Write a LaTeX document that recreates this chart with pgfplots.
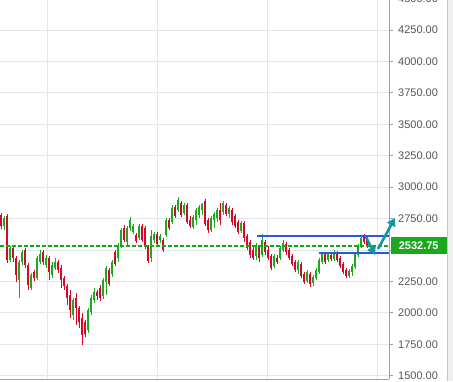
\documentclass[border=0pt]{standalone}
\usepackage{fontspec}
\setmainfont{Liberation Sans}
\usepackage{pgfplots}
\pgfplotsset{compat=1.18}
\usepackage{pgfplotstable}
\usetikzlibrary{arrows.meta}
\definecolor{gridc}{RGB}{224,231,239}
\definecolor{axisc}{RGB}{160,160,160}
\definecolor{labc}{RGB}{85,85,85}
\definecolor{upc}{RGB}{30,168,30}
\definecolor{dnc}{RGB}{214,8,42}
\definecolor{pricec}{RGB}{20,170,20}
\definecolor{boxc}{RGB}{28,168,28}
\definecolor{bluec}{RGB}{45,85,225}
\definecolor{tealc}{RGB}{18,150,160}
\definecolor{stripc}{RGB}{240,240,240}

\pgfplotstableread{
x o h l c
4 2691 2770 2659 2754
10 2420 2532 2404 2516
19 2261 2420 2118 2404
22 2404 2500 2381 2484
31 2198 2317 2182 2301
37 2277 2452 2261 2436
40 2404 2500 2389 2468
46 2381 2460 2357 2436
52 2301 2404 2277 2381
55 2357 2436 2341 2404
73 1983 2118 1943 2102
88 1864 2039 1840 2023
91 2007 2142 1983 2118
94 2102 2198 2078 2166
103 2134 2277 2110 2261
106 2245 2373 2142 2357
112 2309 2420 2285 2404
118 2436 2556 2404 2540
121 2540 2675 2516 2659
127 2564 2691 2540 2675
130 2675 2762 2651 2739
133 2643 2707 2627 2691
139 2595 2707 2579 2691
151 2436 2659 2404 2611
154 2579 2643 2556 2627
160 2579 2627 2556 2611
166 2619 2754 2603 2739
172 2723 2858 2707 2834
178 2818 2921 2802 2898
184 2794 2874 2778 2858
193 2683 2778 2667 2762
196 2739 2834 2699 2818
199 2778 2858 2754 2842
202 2818 2874 2778 2866
211 2659 2770 2643 2754
214 2739 2802 2675 2786
217 2754 2834 2723 2818
223 2802 2890 2778 2874
229 2786 2850 2754 2834
241 2651 2731 2635 2715
256 2452 2556 2420 2540
262 2460 2627 2444 2579
274 2373 2468 2357 2452
280 2436 2532 2420 2516
283 2500 2579 2484 2556
298 2341 2420 2309 2404
307 2253 2341 2237 2325
313 2237 2301 2214 2285
316 2277 2357 2261 2341
319 2325 2436 2309 2420
322 2404 2484 2389 2468
328 2420 2484 2404 2468
334 2428 2500 2412 2484
349 2293 2349 2277 2333
352 2325 2389 2293 2373
355 2365 2484 2349 2468
358 2460 2548 2444 2532
361 2532 2611 2516 2595
}\upcandles

\pgfplotstableread{
x o h l c
1 2778 2794 2667 2691
7 2770 2786 2397 2420
13 2516 2540 2404 2436
16 2436 2452 2245 2301
25 2500 2516 2357 2381
28 2381 2397 2182 2222
34 2325 2341 2253 2277
43 2484 2500 2381 2404
49 2436 2452 2261 2325
58 2404 2420 2317 2341
61 2357 2381 2198 2261
64 2277 2293 2182 2214
67 2214 2229 2062 2118
70 2142 2182 1959 2023
76 2118 2158 1903 2039
79 2039 2054 1879 1927
82 1959 1999 1744 1824
85 1927 1943 1808 1832
97 2166 2182 2102 2134
100 2198 2222 2094 2118
109 2341 2357 2214 2229
115 2484 2500 2373 2389
124 2675 2699 2564 2579
136 2619 2635 2556 2571
142 2691 2707 2564 2579
145 2675 2691 2508 2524
148 2524 2540 2397 2412
157 2627 2643 2532 2548
163 2579 2595 2484 2500
169 2739 2754 2659 2675
175 2842 2858 2754 2770
181 2874 2890 2762 2778
187 2858 2874 2707 2723
190 2739 2770 2675 2691
205 2890 2906 2691 2707
208 2739 2754 2635 2659
220 2818 2874 2699 2739
226 2858 2874 2770 2786
232 2818 2834 2699 2723
235 2770 2786 2675 2691
238 2723 2739 2627 2643
244 2715 2731 2564 2595
247 2611 2627 2500 2516
250 2564 2579 2436 2460
253 2500 2524 2420 2436
259 2524 2540 2404 2436
265 2564 2579 2460 2484
268 2500 2532 2420 2436
271 2452 2468 2341 2357
277 2436 2460 2389 2404
286 2548 2564 2460 2484
289 2500 2516 2420 2436
292 2452 2468 2373 2389
295 2404 2420 2325 2341
301 2389 2404 2277 2293
304 2309 2325 2229 2245
310 2309 2325 2206 2229
325 2468 2484 2389 2404
331 2460 2476 2412 2428
337 2476 2492 2404 2420
340 2436 2452 2357 2373
343 2389 2404 2309 2325
346 2341 2357 2277 2293
364 2611 2627 2548 2564
367 2595 2611 2516 2532.75
}\dncandles

\begin{document}
\begin{tikzpicture}[x=1pt,y=1pt]
\fill[stripc] (447,0) rectangle (453,381);
\draw[axisc!60, line width=0.6pt] (447,0) -- (447,381);
\begin{axis}[
  at={(0pt,2pt)}, anchor=south west,
  scale only axis, width=389pt, height=389pt,
  xmin=0, xmax=389, ymin=1473.8, ymax=4567.9,
  clip=false,
  axis y line*=right, axis x line*=bottom,
  axis line style={draw=axisc, line width=0.7pt},
  xtick={47.7,157,267,377}, xticklabels={},
  major x tick style={draw=none},
  ytick={1500,1750,2000,2250,2750,3000,3250,3500,3750,4000,4250,4500},
  extra y ticks={2500}, extra y tick labels={},
  xmajorgrids, ymajorgrids,
  grid style={draw=gridc, line width=0.8pt},
  tick align=outside, major tick length=4pt,
  major y tick style={draw=axisc, line width=0.7pt},
  /pgf/number format/.cd, fixed, fixed zerofill, precision=2, 1000 sep={}, assume math mode=true,
  /pgfplots/.cd,
  yticklabel style={font=\fontsize{11pt}{13pt}\selectfont, text=labc, anchor=west, inner sep=0pt, xshift=5pt},
]
% wicks
\addplot[draw=none, mark=none, forget plot, error bars/.cd, y dir=both, y explicit, error mark=none,
  error bar style={draw=upc, line width=0.9pt, solid}]
  table[x=x, y expr=(\thisrow{h}+\thisrow{l})/2, y error expr=(\thisrow{h}-\thisrow{l})/2] {\upcandles};
\addplot[draw=none, mark=none, forget plot, error bars/.cd, y dir=both, y explicit, error mark=none,
  error bar style={draw=dnc, line width=0.9pt, solid}]
  table[x=x, y expr=(\thisrow{h}+\thisrow{l})/2, y error expr=(\thisrow{h}-\thisrow{l})/2] {\dncandles};
% bodies
\addplot[draw=none, mark=none, forget plot, error bars/.cd, y dir=both, y explicit, error mark=none,
  error bar style={draw=upc, line width=2.2pt, solid}]
  table[x=x, y expr=(\thisrow{o}+\thisrow{c})/2, y error expr=abs(\thisrow{c}-\thisrow{o})/2] {\upcandles};
\addplot[draw=none, mark=none, forget plot, error bars/.cd, y dir=both, y explicit, error mark=none,
  error bar style={draw=dnc, line width=2.2pt, solid}]
  table[x=x, y expr=(\thisrow{o}+\thisrow{c})/2, y error expr=abs(\thisrow{c}-\thisrow{o})/2] {\dncandles};
% price line
\addplot[color=pricec, line width=1.5pt, dash pattern=on 4pt off 2pt, mark=none] coordinates {(0,2532.75) (389,2532.75)};
% horizontal lines
\addplot[color=bluec, line width=1.8pt, mark=none] coordinates {(257,2611) (389,2611)};
\addplot[color=bluec, line width=1.8pt, mark=none] coordinates {(319,2476) (389,2476)};
% arrows
\draw[draw=tealc, fill=tealc, line width=2.6pt, -{Triangle[length=8pt,width=9pt]}] (axis cs:366,2603) -- (axis cs:375,2460);
\draw[draw=tealc, fill=tealc, line width=2.6pt, -{Triangle[length=8pt,width=9pt]}] (axis cs:378,2508) -- (axis cs:395,2755);
\coordinate (P) at (axis cs:389,2532.75);
\end{axis}
\node[fill=boxc, text=white, font=\bfseries\fontsize{11pt}{13pt}\selectfont, anchor=west,
  minimum width=56pt, minimum height=17pt, inner sep=0pt] at ([xshift=1.5pt]P) {2532.75};
\pgfresetboundingbox
\useasboundingbox (0,0) rectangle (453,381);
\end{tikzpicture}
\end{document}
